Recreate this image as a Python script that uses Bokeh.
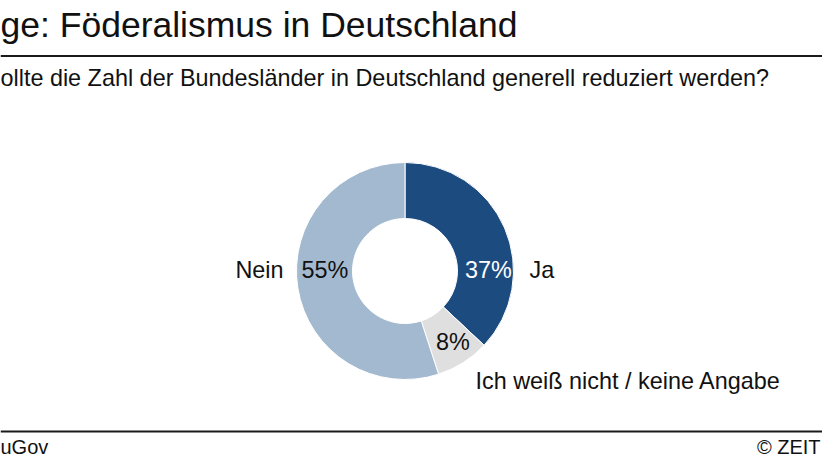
import math
from bokeh.plotting import figure
from bokeh.models import Range1d, Label, Span, ColumnDataSource
from bokeh.core.properties import value
from bokeh.embed import file_html
from bokeh.resources import INLINE

# ---- data ----
title = "ge: Föderalismus in Deutschland"
subtitle = "ollte die Zahl der Bundesländer in Deutschland generell reduziert werden?"
source_note = "uGov"
credit = "© ZEIT"
categories = ["Ja", "Ich weiß nicht / keine Angabe", "Nein"]
shares = [37, 8, 55]
colors = ["#1c4b7f", "#dfdfdf", "#a3b9cf"]
pct_colors = ["#ffffff", "#111111", "#111111"]

# ---- layout ----
W, H = 822, 462
def Y(py):
    return H - py

def TY(py, size):
    # baseline correction for text rendering
    return H - (py - 0.36 * size)

p = figure(width=W, height=H, x_range=Range1d(0, W), y_range=Range1d(0, H),
           output_backend="svg", toolbar_location=None, min_border=0,
           x_axis_location=None, y_axis_location=None)
p.grid.visible = False
p.outline_line_color = None
p.background_fill_color = "white"
p.border_fill_color = "white"

FONT = "Liberation Sans"
LS = 23.4

# donut
cx, cy = 404.5, Y(270.5)
r_in, r_out = 52.5, 108.5
total = sum(shares)
starts, ends = [], []
cum = 0
for v in shares:
    starts.append(math.pi / 2 - 2 * math.pi * cum / total)
    cum += v
    ends.append(math.pi / 2 - 2 * math.pi * cum / total)

src = ColumnDataSource(dict(x=[cx] * len(shares), y=[cy] * len(shares),
                            start=starts, end=ends, color=colors))
p.annular_wedge(x="x", y="y", inner_radius=r_in, outer_radius=r_out,
                start_angle="start", end_angle="end", direction="clock",
                fill_color="color", line_color="white", line_width=1, source=src)

# percentage labels (positions are layout)
pct_pos = [(488, 278), (452.5, 350), (324.5, 278)]
psrc = ColumnDataSource(dict(
    x=[pp[0] for pp in pct_pos], y=[TY(pp[1], LS) for pp in pct_pos],
    text=[f"{v}%" for v in shares], color=pct_colors))
p.text(x="x", y="y", text="text", text_color="color", text_align="center",
       text_baseline="alphabetic", text_font=value(FONT), text_font_size=f"{LS}px",
       source=psrc)

# category labels
cat_pos = [(529, 278, "left"), (475, 389, "left"), (283, 278, "right")]
for (px, py, al), name in zip(cat_pos, categories):
    p.add_layout(Label(x=px, y=TY(py, LS), text=name, text_align=al,
                       text_baseline="alphabetic", text_font=FONT,
                       text_font_size=f"{LS}px", text_color="#111111"))

# title, subtitle, rules, footer
p.add_layout(Label(x=0, y=TY(37, 35.5), text=title, text_font=FONT, text_font_size="35.5px",
                   text_baseline="alphabetic", text_align="left", text_color="#111111"))
p.add_layout(Label(x=0, y=TY(86, LS), text=subtitle, text_font=FONT, text_font_size=f"{LS}px",
                   text_baseline="alphabetic", text_align="left", text_color="#111111"))
p.add_layout(Span(location=Y(55.5), dimension="width", line_color="#1a1a1a", line_width=2))
p.add_layout(Span(location=Y(431), dimension="width", line_color="#1a1a1a", line_width=2))
p.add_layout(Label(x=0, y=TY(454, 20), text=source_note, text_font=FONT, text_font_size="20px",
                   text_baseline="alphabetic", text_align="left", text_color="#111111"))
p.add_layout(Label(x=820, y=TY(454, 20), text=credit, text_font=FONT, text_font_size="20px",
                   text_baseline="alphabetic", text_align="right", text_color="#111111"))

open("out.html", "w").write(file_html(p, INLINE))
